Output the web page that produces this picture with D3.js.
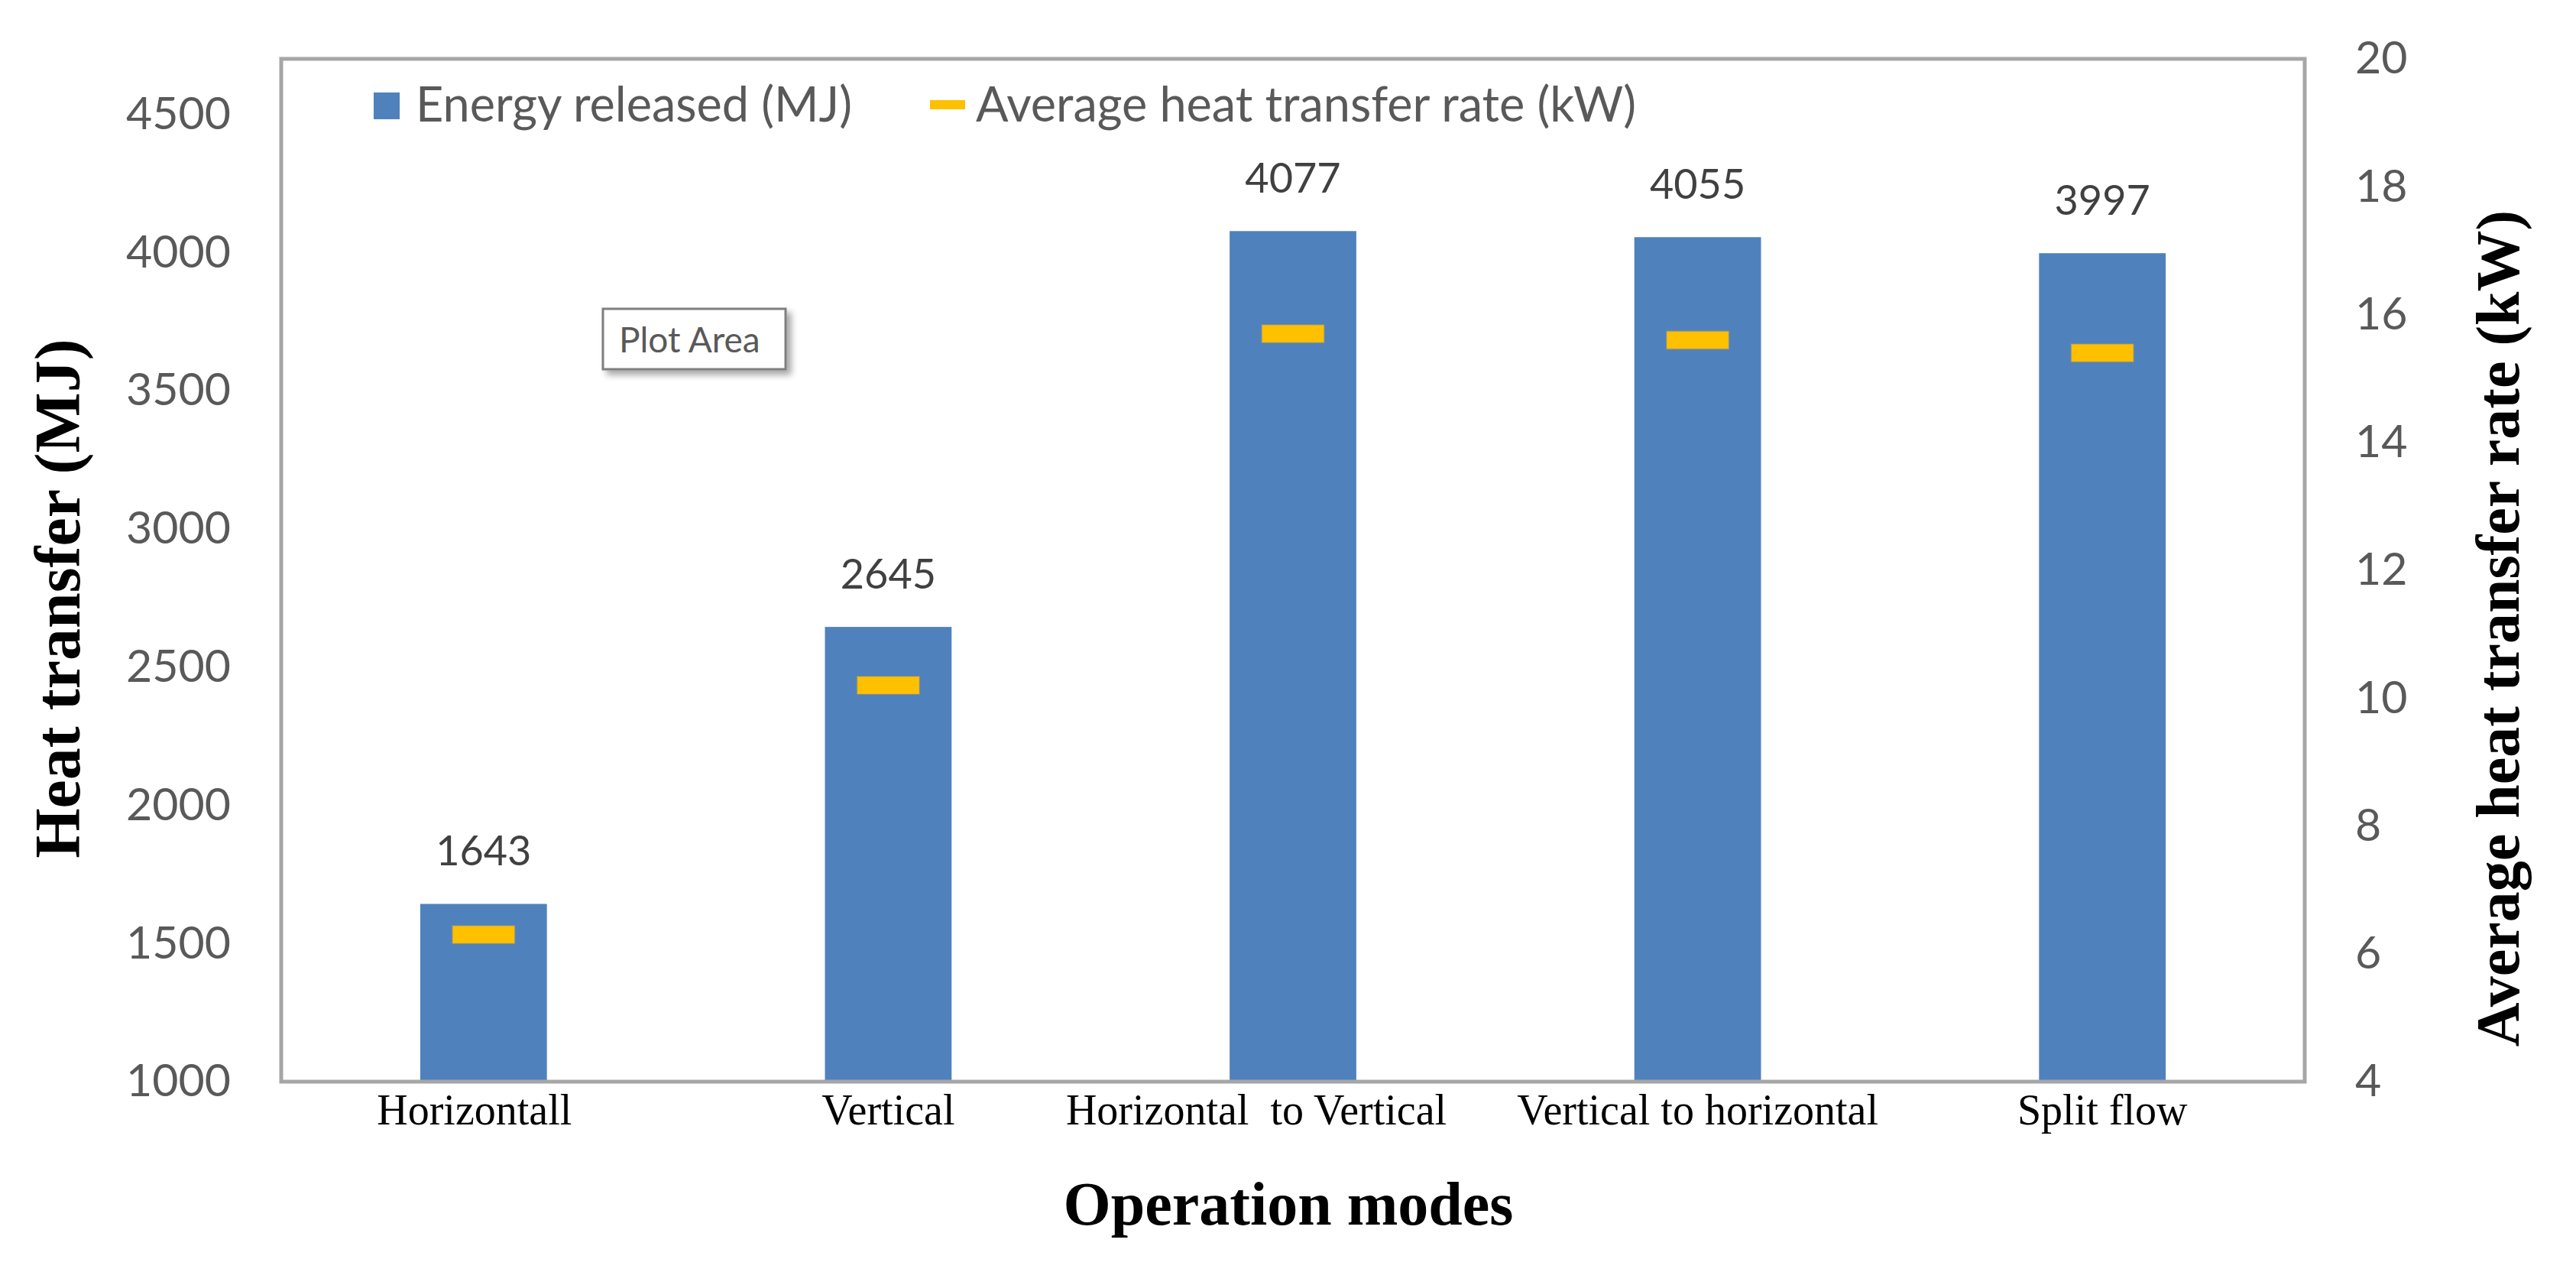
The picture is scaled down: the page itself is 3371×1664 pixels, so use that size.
<!DOCTYPE html>
<html>
<head>
<meta charset="utf-8">
<script src="https://cdn.jsdelivr.net/npm/d3@7"></script>
<style>
  html, body { margin: 0; padding: 0; background: #ffffff; }
  svg { display: block; }
</style>
</head>
<body>
<div id="chart"></div>
<script>
// ---- data ----
const categories = ["Horizontall", "Vertical", "Horizontal  to Vertical", "Vertical to horizontal", "Split flow"];
const energyMJ = [1643, 2645, 4077, 4055, 3997];
const rateKW = [6.3, 10.2, 15.7, 15.6, 15.4];
const leftTicks = [1000, 1500, 2000, 2500, 3000, 3500, 4000, 4500];
const rightTicks = [4, 6, 8, 10, 12, 14, 16, 18, 20];
const legendLabels = ["Energy released (MJ)", "Average heat transfer rate (kW)"];

// ---- layout ----
const W = 3371, H = 1664;
const plot = { left: 368, right: 3016, top: 77, bottom: 1415 };
const sans = "Lato, 'Open Sans', 'DejaVu Sans', sans-serif";
const serif = "'Liberation Serif', 'Times New Roman', serif";
const barColor = "#4F81BD", markColor = "#FFC000", frameColor = "#A6A6A6";

const svg = d3.select("#chart").append("svg")
  .attr("width", W).attr("height", H)
  .attr("viewBox", `0 0 ${W} ${H}`);

const defs = svg.append("defs");
const f = defs.append("filter").attr("id", "shadow").attr("x", "-20%").attr("y", "-20%").attr("width", "150%").attr("height", "160%");
f.append("feDropShadow").attr("dx", 6).attr("dy", 6).attr("stdDeviation", 4).attr("flood-color", "#000").attr("flood-opacity", 0.35);

const x = d3.scaleBand().domain(categories)
  .range([plot.left, plot.right]).paddingInner(0.687).paddingOuter(0.3435);
const yL = d3.scaleLinear().domain([1000, 4700]).range([plot.bottom, plot.top]);
const yR = d3.scaleLinear().domain([4, 20]).range([plot.bottom, plot.top]);

// bars
svg.append("g").selectAll("rect").data(energyMJ).join("rect")
  .attr("x", (d, i) => x(categories[i]))
  .attr("y", d => yL(d))
  .attr("width", x.bandwidth())
  .attr("height", d => yL(1000) - yL(d))
  .attr("fill", barColor);

// data labels
svg.append("g").selectAll("text").data(energyMJ).join("text")
  .attr("x", (d, i) => x(categories[i]) + x.bandwidth() / 2)
  .attr("y", d => yL(d) - 50)
  .attr("text-anchor", "middle")
  .attr("font-family", sans).attr("font-size", 54)
  .attr("fill", "#404040")
  .text(d => d);

// markers (average heat transfer rate)
const mW = x.bandwidth() * 0.49, mH = 23;
svg.append("g").selectAll("rect").data(rateKW).join("rect")
  .attr("x", (d, i) => x(categories[i]) + x.bandwidth() / 2 - mW / 2)
  .attr("y", d => yR(d) - mH / 2)
  .attr("width", mW).attr("height", mH)
  .attr("fill", markColor)
  .attr("stroke", "#C9A24A").attr("stroke-opacity", 0.35).attr("stroke-width", 2);

// frame
svg.append("rect")
  .attr("x", plot.left).attr("y", plot.top)
  .attr("width", plot.right - plot.left).attr("height", plot.bottom - plot.top)
  .attr("fill", "none").attr("stroke", frameColor).attr("stroke-width", 5);

// axes
const axL = svg.append("g").attr("transform", `translate(${plot.left},0)`)
  .call(d3.axisLeft(yL).tickValues(leftTicks).tickFormat(d3.format("d")).tickSize(0).tickPadding(66));
const axR = svg.append("g").attr("transform", `translate(${plot.right},0)`)
  .call(d3.axisRight(yR).tickValues(rightTicks).tickFormat(d3.format("d")).tickSize(0).tickPadding(66));
const axB = svg.append("g").attr("transform", `translate(0,${plot.bottom})`)
  .call(d3.axisBottom(x).tickSize(0).tickPadding(56));
[axL, axR, axB].forEach(a => a.select(".domain").remove());
[axL, axR].forEach(a => a.selectAll("text")
  .attr("font-family", sans).attr("font-size", 59).attr("fill", "#595959"));
// the reference centres the third category label a little left of its bar
const labelShift = { "Horizontal  to Vertical": -48, "Horizontall": -12 };
axB.selectAll("text")
  .attr("font-family", serif).attr("font-size", 56).attr("fill", "#000")
  .attr("dy", 0).style("white-space", "pre")
  .attr("dx", d => labelShift[d] || 0);

// axis titles
svg.append("text")
  .attr("transform", `translate(104,783) rotate(-90)`)
  .attr("text-anchor", "middle")
  .attr("font-family", serif).attr("font-weight", "bold").attr("font-size", 84)
  .attr("fill", "#000").text("Heat transfer (MJ)");
svg.append("text")
  .attr("transform", `translate(3296,822) rotate(-90)`)
  .attr("text-anchor", "middle")
  .attr("font-family", serif).attr("font-weight", "bold").attr("font-size", 80)
  .attr("fill", "#000").text("Average heat transfer rate (kW)");
svg.append("text")
  .attr("x", 1686).attr("y", 1602)
  .attr("text-anchor", "middle")
  .attr("font-family", serif).attr("font-weight", "bold").attr("font-size", 80)
  .attr("fill", "#000").text("Operation modes");

// legend
const lg = svg.append("g");
lg.append("rect").attr("x", 489).attr("y", 121).attr("width", 34).attr("height", 35).attr("fill", barColor);
lg.append("text").attr("x", 544).attr("y", 159)
  .attr("font-family", sans).attr("font-size", 63).attr("fill", "#595959").text(legendLabels[0]);
lg.append("rect").attr("x", 1217).attr("y", 131).attr("width", 46).attr("height", 12).attr("fill", markColor);
lg.append("text").attr("x", 1277).attr("y", 159)
  .attr("font-family", sans).attr("font-size", 63).attr("fill", "#595959").text(legendLabels[1]);

// "Plot Area" tooltip box
const pa = svg.append("g");
pa.append("rect").attr("x", 789).attr("y", 404).attr("width", 239).attr("height", 79)
  .attr("fill", "#fff").attr("stroke", "#7F7F7F").attr("stroke-width", 3).attr("filter", "url(#shadow)");
pa.append("text").attr("x", 810).attr("y", 461)
  .attr("font-family", sans).attr("font-size", 46).attr("fill", "#595959").text("Plot Area");
</script>
</body>
</html>
